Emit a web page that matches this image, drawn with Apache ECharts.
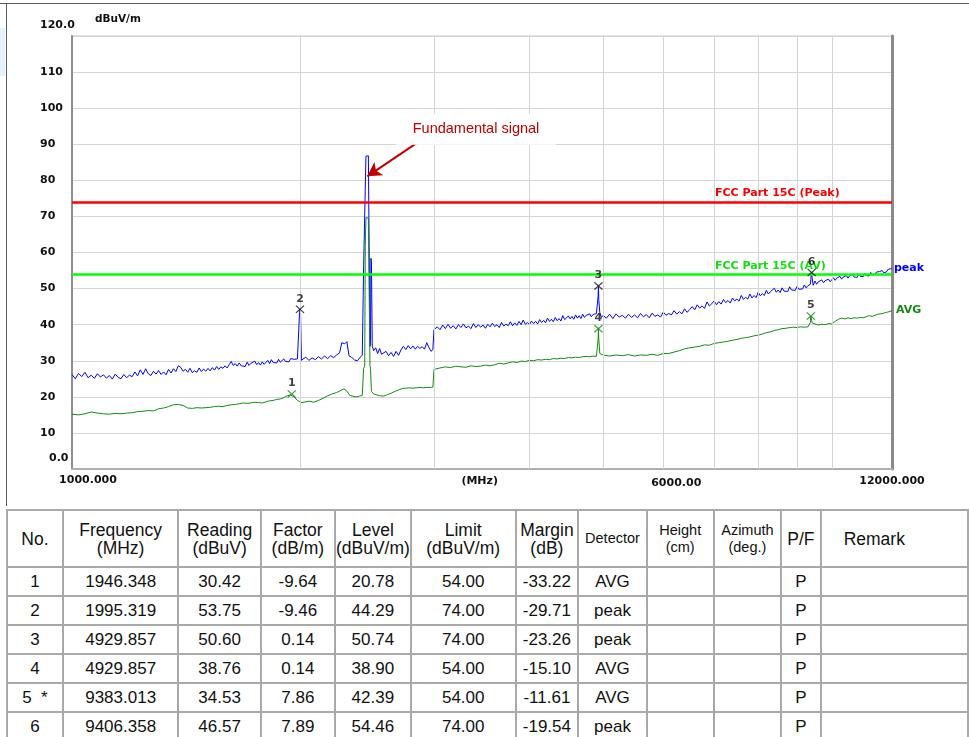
<!DOCTYPE html>
<html>
<head>
<meta charset="utf-8">
<script src="https://cdn.jsdelivr.net/npm/echarts@6/dist/echarts.min.js"></script>
<style>
  html, body { margin: 0; padding: 0; background: #fff; width: 969px; height: 737px; overflow: hidden; position: relative; font-family: "Liberation Sans", Arial, sans-serif; }
  #topRule { position: absolute; left: 0; top: 3px; width: 969px; height: 1px; background: #5a5a5a; }
  #leftRule { position: absolute; left: 6px; top: 3px; width: 1px; height: 503px; background: #5a5a5a; }
  #sideTab { position: absolute; left: 0; top: 28px; width: 5px; height: 48px; background: #e3f1fd; }
  #chart { position: absolute; left: 0; top: 0; width: 969px; height: 505px; }
  #result { position: absolute; left: 6px; top: 509px; border-collapse: collapse; table-layout: fixed; }
  #result td { border: 2px solid #a9a9a9; text-align: center; padding: 0; color: #111; font-size: 17px; line-height: 18px; white-space: nowrap; overflow: hidden; }
  #result tr.head td { font-size: 17.5px; }
  #result tr.head td.small { font-size: 14.5px; line-height: 17px; }
  #result tr.head td.remark { text-align: left; padding-left: 22px; }
</style>
</head>
<body>
<div id="topRule"></div>
<div id="leftRule"></div>
<div id="sideTab"></div>
<div id="chart"></div>
<table id="result"></table>
<script>
// Peak detector sweep: frequency (MHz) and level (dBuV/m)
const peakFreq = [
  1000, 1010, 1020, 1030, 1040, 1050, 1060, 1070, 1080, 1090,
  1100, 1110, 1120, 1130, 1140, 1150, 1160, 1170, 1180, 1190,
  1200, 1210, 1220, 1230, 1240, 1250, 1260, 1270, 1280, 1290,
  1300, 1310, 1320, 1330, 1340, 1350, 1360, 1370, 1380, 1390,
  1400, 1410, 1420, 1430, 1440, 1450, 1460, 1470, 1480, 1490,
  1500, 1510, 1520, 1530, 1540, 1550, 1560, 1570, 1580, 1590,
  1600, 1610, 1620, 1630, 1640, 1650, 1660, 1670, 1680, 1690,
  1700, 1710, 1720, 1730, 1740, 1750, 1760, 1770, 1780, 1790,
  1800, 1810, 1820, 1830, 1840, 1850, 1860, 1870, 1880, 1890,
  1900, 1910, 1920, 1930, 1940, 1950, 1960, 1970, 1980, 1990,
  1993, 1995.319, 1999, 2004,
  2010, 2030, 2050, 2070, 2090, 2110, 2130, 2150, 2170, 2190,
  2210, 2230, 2250, 2265, 2285, 2300, 2315, 2335, 2355, 2375,
  2395, 2410, 2420, 2428, 2432, 2437, 2445, 2455, 2463, 2467,
  2471, 2474, 2478, 2484, 2495, 2510, 2525, 2540, 2555, 2570,
  2590, 2610, 2630, 2650, 2670, 2690, 2710, 2730, 2750, 2770,
  2790, 2810, 2830, 2850, 2870, 2890, 2910, 2930, 2950, 2970,
  2985, 2995,
  3025, 3050, 3075, 3100, 3125, 3150, 3175, 3200, 3225, 3250,
  3275, 3300, 3325, 3350, 3375, 3400, 3425, 3450, 3475, 3500,
  3525, 3550, 3575, 3600, 3625, 3650, 3675, 3700, 3725, 3750,
  3775, 3800, 3825, 3850, 3875, 3900, 3925, 3950, 3975, 4000,
  4025, 4050, 4075, 4100, 4125, 4150, 4175, 4200, 4225, 4250,
  4275, 4300, 4325, 4350, 4375, 4400, 4425, 4450, 4475, 4500,
  4525, 4550, 4575, 4600, 4625, 4650, 4675, 4700, 4725, 4750,
  4775, 4800, 4825, 4850, 4875, 4900,
  4915, 4925, 4929.857, 4935, 4950, 4975,
  5000, 5050, 5100, 5150, 5200, 5250, 5300, 5350, 5400, 5450,
  5500, 5550, 5600, 5650, 5700, 5750, 5800, 5850, 5900, 5950,
  6000, 6050, 6100, 6150, 6200, 6250, 6300, 6350, 6400, 6450,
  6500, 6550, 6600, 6650, 6700, 6750, 6800, 6850, 6900, 6950,
  7000, 7050, 7100, 7150, 7200, 7250, 7300, 7350, 7400, 7450,
  7500, 7550, 7600, 7650, 7700, 7750, 7800, 7850, 7900, 7950,
  8000, 8050, 8100, 8150, 8200, 8250, 8300, 8350, 8400, 8450,
  8500, 8550, 8600, 8650, 8700, 8750, 8800, 8850, 8900, 8950,
  9000, 9050, 9100, 9150, 9200, 9250, 9300, 9340,
  9370, 9383.013, 9395, 9406.358, 9420, 9450,
  9500, 9550, 9600, 9650, 9700, 9750, 9800, 9850, 9900, 9950,
  10000, 10050, 10100, 10150, 10200, 10250, 10300, 10350, 10400, 10450,
  10500, 10550, 10600, 10650, 10700, 10750, 10800, 10850, 10900, 10950,
  11000, 11050, 11100, 11150, 11200, 11250, 11300, 11350, 11400, 11450,
  11500, 11550, 11600, 11650, 11700, 11750, 11800, 11850, 11900, 11950,
  12000
];
const peakTrace = [
  26.2, 25.0, 26.5, 25.6, 26.8, 25.3, 26.0, 25.1, 26.4, 25.5,
  26.1, 25.2, 25.9, 24.9, 26.3, 25.4, 25.0, 26.2, 25.3, 26.0,
  25.6, 26.9, 25.8, 27.5, 26.2, 27.8, 26.4, 25.9, 27.1, 26.3,
  27.3, 26.2, 26.9, 26.1, 27.6, 26.6, 27.8, 27.0, 28.6, 28.2,
  27.1, 27.6, 26.8, 27.9, 26.7, 27.2, 26.8, 28.0, 27.0, 27.7,
  27.1, 27.9, 27.2, 28.1, 27.4, 28.4, 27.6, 28.3, 27.9, 28.6,
  28.0, 28.9, 29.8, 28.7, 29.2, 28.5, 29.4, 28.6, 29.1, 28.4,
  29.6, 28.7, 29.3, 28.8, 29.9, 28.9, 29.5, 28.8, 29.7, 29.0,
  29.4, 30.1, 29.2, 30.3, 29.5, 30.0, 29.4, 30.4, 29.6, 30.1,
  30.5, 29.8, 30.2, 29.7, 30.6, 30.1, 30.4, 29.9, 30.5, 30.2,
  43.4, 44.29, 43.0, 30.1,
  30.4, 31.0, 30.1, 30.8, 30.3, 31.1, 30.5, 31.3, 30.6, 31.4,
  30.9, 31.6, 32.2, 35.0, 34.7, 35.3, 31.4, 30.9, 30.2, 30.0,
  31.0, 31.5, 56.0, 56.5, 56.5, 86.7, 87.0, 86.8, 86.6, 34.0,
  35.0, 58.4, 57.5, 34.0, 32.8, 33.6, 32.0, 33.4, 31.8, 31.3,
  32.6, 31.4, 32.3, 31.2, 32.6, 31.5, 33.0, 34.0, 33.1, 34.2,
  33.3, 34.1, 33.2, 34.0, 33.4, 33.9, 33.2, 35.0, 33.6, 32.6,
  33.2, 38.6,
  39.4, 38.6, 39.9, 38.9, 40.1, 39.0, 39.7, 38.8, 40.0, 39.2,
  40.2, 39.1, 39.6, 38.9, 40.3, 39.2, 40.0, 39.3, 39.9, 39.0,
  40.1, 39.4, 40.4, 39.5, 40.0, 39.2, 40.6, 39.6, 40.2, 39.7,
  40.8, 39.7, 40.5, 39.8, 40.9, 40.0, 41.3, 40.1, 40.6, 40.0,
  41.0, 40.3, 40.9, 40.2, 41.4, 40.6, 41.2, 40.5, 41.8, 40.9,
  41.5, 40.8, 42.0, 41.1, 41.7, 41.0, 42.5, 41.4, 41.9, 42.4,
  41.6, 42.3, 41.5, 42.7, 41.8, 42.5, 41.7, 42.9, 42.0, 42.6,
  42.1, 43.0, 42.2, 42.8, 42.4, 43.1,
  42.8, 48.0, 50.74, 47.0, 43.3, 42.0,
  42.6, 41.8, 42.9, 41.7, 43.0, 42.1, 42.6, 41.8, 42.9, 42.0,
  42.7, 41.9, 43.1, 42.2, 42.8, 41.9, 43.2, 42.3, 42.7, 42.1,
  43.5, 42.6, 43.1, 42.7, 43.9, 42.9, 43.6, 43.0, 44.4, 43.4,
  44.2, 45.0, 44.1, 45.5, 44.6, 45.2, 44.5, 46.3, 45.2, 45.8,
  46.6, 45.5, 46.4, 45.7, 47.0, 46.1, 46.7, 46.0, 47.4, 46.6,
  47.1, 46.5, 48.1, 47.0, 47.6, 47.1, 48.5, 47.4, 48.1, 47.5,
  49.0, 48.0, 48.6, 48.1, 49.5, 48.5, 49.1, 48.6, 50.1, 49.0,
  49.6, 48.9, 50.2, 49.3, 49.8, 49.2, 50.5, 49.6, 50.1, 49.5,
  50.6, 49.8, 50.3, 49.9, 51.0, 50.2, 50.8, 50.4,
  51.2, 52.5, 53.8, 54.46, 53.0, 50.9,
  52.1, 51.2, 51.9, 51.4, 52.4, 51.6, 52.2, 51.7, 52.6, 51.9,
  52.2, 53.0, 52.3, 52.9, 52.5, 53.4, 52.6, 53.2, 52.8, 53.6,
  52.9, 53.5, 53.0, 53.9, 53.2, 53.7, 53.1, 54.0, 53.4, 53.8,
  53.3, 54.2, 53.6, 54.0, 53.5, 54.5, 53.8, 54.3, 53.9, 54.6,
  54.1, 54.7, 54.3, 55.0, 54.4, 54.9, 54.6, 55.3, 54.9, 55.5,
  55.7
];

// Average detector sweep: frequency (MHz) and level (dBuV/m)
const avgFreq = [
  1000, 1020, 1040, 1060, 1080, 1100, 1120, 1140, 1160, 1180,
  1200, 1220, 1240, 1260, 1280, 1300, 1320, 1340, 1360, 1380,
  1400, 1420, 1440, 1460, 1480, 1500, 1520, 1540, 1560, 1580,
  1600, 1620, 1640, 1660, 1680, 1700, 1720, 1740, 1760, 1780,
  1800, 1820, 1840, 1860, 1880, 1900, 1920, 1940, 1946.348, 1960,
  1980, 1985, 1990, 1995.319, 2000, 2008, 2020, 2050, 2080, 2110,
  2140, 2170, 2200, 2230, 2260, 2280, 2300, 2320, 2350, 2370,
  2390, 2410, 2420, 2428, 2432, 2437, 2445, 2455, 2463, 2467,
  2471, 2474, 2478, 2484, 2495, 2510, 2540, 2570, 2600, 2630,
  2660, 2690, 2720, 2750, 2780, 2810, 2840, 2870, 2900, 2930,
  2960, 2985, 2995, 3050, 3100, 3150, 3200, 3250, 3300, 3350,
  3400, 3450, 3500, 3550, 3600, 3650, 3700, 3750, 3800, 3850,
  3900, 3950, 4000, 4050, 4100, 4150, 4200, 4250, 4300, 4350,
  4400, 4450, 4500, 4550, 4600, 4650, 4700, 4750, 4800, 4850,
  4900, 4915, 4925, 4929.857, 4935, 4950, 5000, 5100, 5200, 5300,
  5400, 5500, 5600, 5700, 5800, 5900, 6000, 6100, 6200, 6300,
  6400, 6500, 6600, 6700, 6800, 6900, 7000, 7100, 7200, 7300,
  7400, 7500, 7600, 7700, 7800, 7900, 8000, 8100, 8200, 8300,
  8400, 8500, 8600, 8700, 8800, 8900, 9000, 9100, 9200, 9300,
  9370, 9383.013, 9395, 9406.358, 9420, 9450, 9500, 9600, 9700, 9800,
  9900, 10000, 10100, 10200, 10300, 10400, 10500, 10600, 10700, 10800,
  10900, 11000, 11100, 11200, 11300, 11400, 11500, 11600, 11700, 11800,
  11900, 12000
];
const avgTrace = [
  15.2, 15.0, 15.3, 15.8, 15.5, 15.3, 15.2, 15.4, 15.3, 15.5,
  15.6, 15.9, 16.0, 16.2, 16.1, 16.7, 16.9, 17.3, 17.8, 17.9,
  17.6, 16.9, 16.8, 17.0, 16.9, 17.0, 17.1, 17.3, 17.4, 17.3,
  17.6, 17.8, 17.9, 18.1, 18.3, 18.2, 18.3, 18.5, 18.4, 18.3,
  18.6, 18.9, 19.0, 19.3, 19.4, 19.8, 20.3, 20.5, 20.78, 20.0,
  19.0, 18.8, 18.7, 18.6, 18.5, 18.4, 18.4, 18.8, 18.5, 19.0,
  19.6, 20.3, 20.8, 21.2, 21.8, 22.2, 21.6, 20.4, 20.1, 20.0,
  20.2, 20.4, 27.9, 28.5, 62.0, 69.7, 70.0, 69.5, 69.0, 28.5,
  27.9, 27.5, 21.5, 21.0, 20.8, 20.6, 20.3, 20.2, 20.6, 21.0,
  21.5, 21.9, 22.3, 22.4, 22.5, 22.4, 22.5, 22.6, 22.5, 22.6,
  22.6, 22.7, 27.6, 28.0, 28.3, 28.1, 28.5, 28.3, 28.2, 28.6,
  28.4, 28.5, 28.8, 28.6, 28.9, 29.3, 29.1, 29.4, 29.7, 29.5,
  29.9, 29.8, 30.1, 30.0, 30.3, 30.2, 30.4, 30.3, 30.6, 30.5,
  30.7, 30.6, 30.9, 30.8, 31.0, 30.9, 31.1, 31.2, 31.1, 31.3,
  31.2, 31.4, 36.0, 38.90, 36.0, 32.0, 31.6, 31.3, 31.6, 31.4,
  31.7, 31.3, 31.6, 31.5, 31.8, 31.5, 32.0, 32.0, 32.4, 32.8,
  33.3, 33.6, 33.8, 34.0, 34.4, 34.3, 34.8, 35.0, 35.2, 35.4,
  35.7, 35.9, 36.2, 36.4, 36.6, 36.9, 37.1, 37.4, 37.8, 38.0,
  38.4, 38.6, 38.9, 39.0, 39.2, 39.3, 39.2, 39.4, 39.3, 39.4,
  40.6, 42.39, 41.8, 41.2, 40.5, 40.0, 40.2, 39.9, 40.1, 40.0,
  40.3, 40.2, 40.9, 41.5, 41.8, 41.6, 41.9, 41.7, 41.9, 41.8,
  42.0, 41.9, 42.2, 42.5, 42.3, 42.6, 42.9, 43.0, 43.2, 43.4,
  43.6, 43.9
];

// Marker table
const markerNo       = ['1', '2', '3', '4', '5', '6'];
const markerFlag     = ['', '', '', '', '*', ''];
const markerFreq     = [1946.348, 1995.319, 4929.857, 4929.857, 9383.013, 9406.358];
const markerReading  = [30.42, 53.75, 50.60, 38.76, 34.53, 46.57];
const markerFactor   = [-9.64, -9.46, 0.14, 0.14, 7.86, 7.89];
const markerLevel    = [20.78, 44.29, 50.74, 38.90, 42.39, 54.46];
const markerLimit    = [54.00, 74.00, 74.00, 54.00, 54.00, 74.00];
const markerMargin   = [-33.22, -29.71, -23.26, -15.10, -11.61, -19.54];
const markerDetector = ['AVG', 'peak', 'peak', 'AVG', 'AVG', 'peak'];
const markerPF       = ['P', 'P', 'P', 'P', 'P', 'P'];

// Limits (dBuV/m)
const limitPeak = 74;
const limitAvg = 54;

// Axis ticks and labels
const yTickText = ['0.0', '10', '20', '30', '40', '50', '60', '70', '80', '90', '100', '110', '120.0'];
const xGridFreq = [2000, 3000, 4000, 5000, 6000, 7000, 8000, 9000, 10000];
const xLabelFreq = [1000, 3440, 6000, 12000];
const xLabelText = ['1000.000', '(MHz)', '6000.00', '12000.000'];

// Fundamental-signal callout
const calloutText = 'Fundamental signal';
const calloutAt = [3402, 94.15];
const arrowFrom = [2929, 92.2];
const arrowTo = [2447, 81.1];

const tableHead = [
  ['No.'], ['Frequency', '(MHz)'], ['Reading', '(dBuV)'], ['Factor', '(dB/m)'],
  ['Level', '(dBuV/m)'], ['Limit', '(dBuV/m)'], ['Margin', '(dB)'], ['Detector'],
  ['Height', '(cm)'], ['Azimuth', '(deg.)'], ['P/F'], ['Remark']
];
const colWidth = [57, 117, 83, 75, 75, 106, 63, 69, 68, 68, 40, 150];

const bitmapFont = { fontFamily: 'DejaVu Sans', fontWeight: 'bold', fontSize: 11 };

const peakData = peakFreq.map((f, i) => [f, peakTrace[i]]);
const avgData = avgFreq.map((f, i) => [f, avgTrace[i]]);

const xSymbol = 'path://M1,0 L5,4 L9,0 L10,1 L6,5 L10,9 L9,10 L5,6 L1,10 L0,9 L4,5 L0,1 Z';
function markerPoints(det) {
  const out = [];
  markerNo.forEach((n, i) => {
    if (markerDetector[i] === det) out.push({ name: n, value: [markerFreq[i], markerLevel[i]] });
  });
  return out;
}

const chart = echarts.init(document.getElementById('chart'), null, { renderer: 'canvas' });
const rich = {
  n: Object.assign({ color: '#111' }, bitmapFont),
  t: Object.assign({ color: '#111', padding: [0, 0, 22, 0] }, bitmapFont),
  z: Object.assign({ color: '#111', padding: [0, 0, 21, 9] }, bitmapFont)
};

chart.setOption({
  animation: false,
  backgroundColor: 'transparent',
  grid: { left: 72, top: 36, right: 77, bottom: 36, show: true, borderColor: '#c8c8c8', borderWidth: 1 },
  xAxis: {
    type: 'log', logBase: 10, min: 1000, max: 12000,
    axisLine: { show: true, onZero: false, lineStyle: { color: '#b0b0b0', width: 2 } },
    axisTick: { show: false }, axisLabel: { show: false }, splitLine: { show: false }
  },
  yAxis: [{
    type: 'value', min: 0, max: 120, interval: 10, position: 'left',
    name: 'dBuV/m', nameLocation: 'end', nameGap: 11,
    nameTextStyle: { color: '#111', align: 'left', padding: [0, 0, 0, 23], fontSize: 10.5, fontFamily: 'DejaVu Sans', fontWeight: 'bold' },
    axisLine: { show: true, lineStyle: { color: '#8e8e8e', width: 2 } },
    axisTick: { show: false },
    splitLine: { show: true, lineStyle: { color: '#d4d4d4', width: 1 } },
    axisLabel: {
      align: 'left', margin: 32,
      formatter: v => {
        const s = yTickText[Math.round(v / 10)];
        if (v === 0) return '{z|' + s + '}';
        if (v === 120) return '{t|' + s + '}';
        return '{n|' + s + '}';
      },
      rich: rich
    }
  }, {
    type: 'value', min: 0, max: 120, interval: 10, position: 'right',
    axisLine: { show: true, lineStyle: { color: '#8a8a8a', width: 3 } },
    axisTick: { show: false }, axisLabel: { show: false }, splitLine: { show: false }
  }],
  series: [
    {
      // callout box and frequency-axis captions
      type: 'line', data: [], z: 1, silent: true,
      markPoint: {
        symbol: 'circle', symbolSize: 0, silent: true,
        itemStyle: { color: 'transparent' },
        label: Object.assign({ show: true, position: 'inside', color: '#111' }, bitmapFont),
        data: xLabelFreq.map((f, i) => ({
          coord: [f, 0],
          label: { formatter: xLabelText[i], offset: [[16, 0, 13, 0][i], [11.5, 12, 14, 12.5][i]] }
        })).concat([{
          coord: calloutAt,
          label: {
            formatter: calloutText, color: '#c00000', fontFamily: 'Liberation Sans', fontWeight: 'normal',
            fontSize: 14.5, backgroundColor: '#ffffff', padding: [8, 17]
          }
        }])
      }
    },
    {
      // vertical frequency grid
      type: 'line', data: [], z: 2, silent: true,
      markLine: {
        symbol: ['none', 'none'], silent: true, label: { show: false },
        lineStyle: { color: '#d4d4d4', width: 1, type: 'solid' },
        data: xGridFreq.map(f => ({ xAxis: f }))
      }
    },
    {
      name: 'peak', type: 'line', data: peakData, z: 3, showSymbol: false, silent: true,
      lineStyle: { color: '#0000ff', width: 1 },
      endLabel: Object.assign({ show: true, formatter: 'peak', color: '#0000ff', distance: 2 }, bitmapFont)
    },
    {
      name: 'AVG', type: 'line', data: avgData, z: 3, showSymbol: false, silent: true,
      lineStyle: { color: '#138a13', width: 1 },
      endLabel: Object.assign({ show: true, formatter: 'AVG', color: '#138a13', distance: 4 }, bitmapFont)
    },
    {
      // limit lines
      type: 'line', data: [], z: 4, silent: true,
      markLine: {
        symbol: ['none', 'none'], silent: true,
        data: [
          {
            yAxis: limitPeak, lineStyle: { color: '#ff0000', width: 2.6, type: 'solid' },
            label: Object.assign({ show: true, position: 'insideStartTop', formatter: 'FCC Part 15C (Peak)', color: '#ff0000', distance: [643, 3] }, bitmapFont)
          },
          {
            yAxis: limitAvg, lineStyle: { color: '#00ff00', width: 2.6, type: 'solid' },
            label: Object.assign({ show: true, position: 'insideStartTop', formatter: 'FCC Part 15C (AV)', color: '#12e012', distance: [643, 3] }, bitmapFont)
          }
        ]
      }
    },
    {
      // arrow pointing at the carrier
      type: 'line', data: [], z: 6, silent: true,
      markLine: {
        symbol: ['none', 'arrow'], symbolSize: [12, 14], silent: true, label: { show: false },
        lineStyle: { color: '#c00000', width: 2, type: 'solid' },
        data: [[{ coord: arrowFrom }, { coord: arrowTo }]]
      }
    },
    {
      type: 'scatter', data: markerPoints('peak'), z: 5, silent: true,
      symbol: xSymbol, symbolSize: [9, 8],
      itemStyle: { color: '#111' },
      label: Object.assign({ show: true, position: 'top', distance: 1, formatter: p => p.name, color: '#111' }, bitmapFont)
    },
    {
      type: 'scatter', data: markerPoints('AVG'), z: 5, silent: true,
      symbol: xSymbol, symbolSize: [9, 8],
      itemStyle: { color: '#138a13' },
      label: Object.assign({ show: true, position: 'top', distance: 1, formatter: p => p.name, color: '#111' }, bitmapFont)
    }
  ]
});

// Result table built from the marker arrays
(function buildTable() {
  const t = document.getElementById('result');
  let html = '<colgroup>' + colWidth.map(w => '<col style="width:' + w + 'px">').join('') + '</colgroup>';
  html += '<tr class="head" style="height:57px">' + tableHead.map((h, i) => {
    const cls = (i === 7 || i === 8 || i === 9) ? ' class="small"' : (i === 11 ? ' class="remark"' : '');
    return '<td' + cls + '>' + h.join('<br>') + '</td>';
  }).join('') + '</tr>';
  markerNo.forEach((n, i) => {
    const cells = [
      n + (markerFlag[i] ? '&nbsp;&nbsp;' + markerFlag[i] : ''),
      markerFreq[i].toFixed(3),
      markerReading[i].toFixed(2),
      markerFactor[i].toFixed(2),
      markerLevel[i].toFixed(2),
      markerLimit[i].toFixed(2),
      markerMargin[i].toFixed(2),
      markerDetector[i], '', '', markerPF[i], ''
    ];
    html += '<tr style="height:29px">' + cells.map(c => '<td>' + c + '</td>').join('') + '</tr>';
  });
  t.innerHTML = html;
})();
</script>
</body>
</html>
